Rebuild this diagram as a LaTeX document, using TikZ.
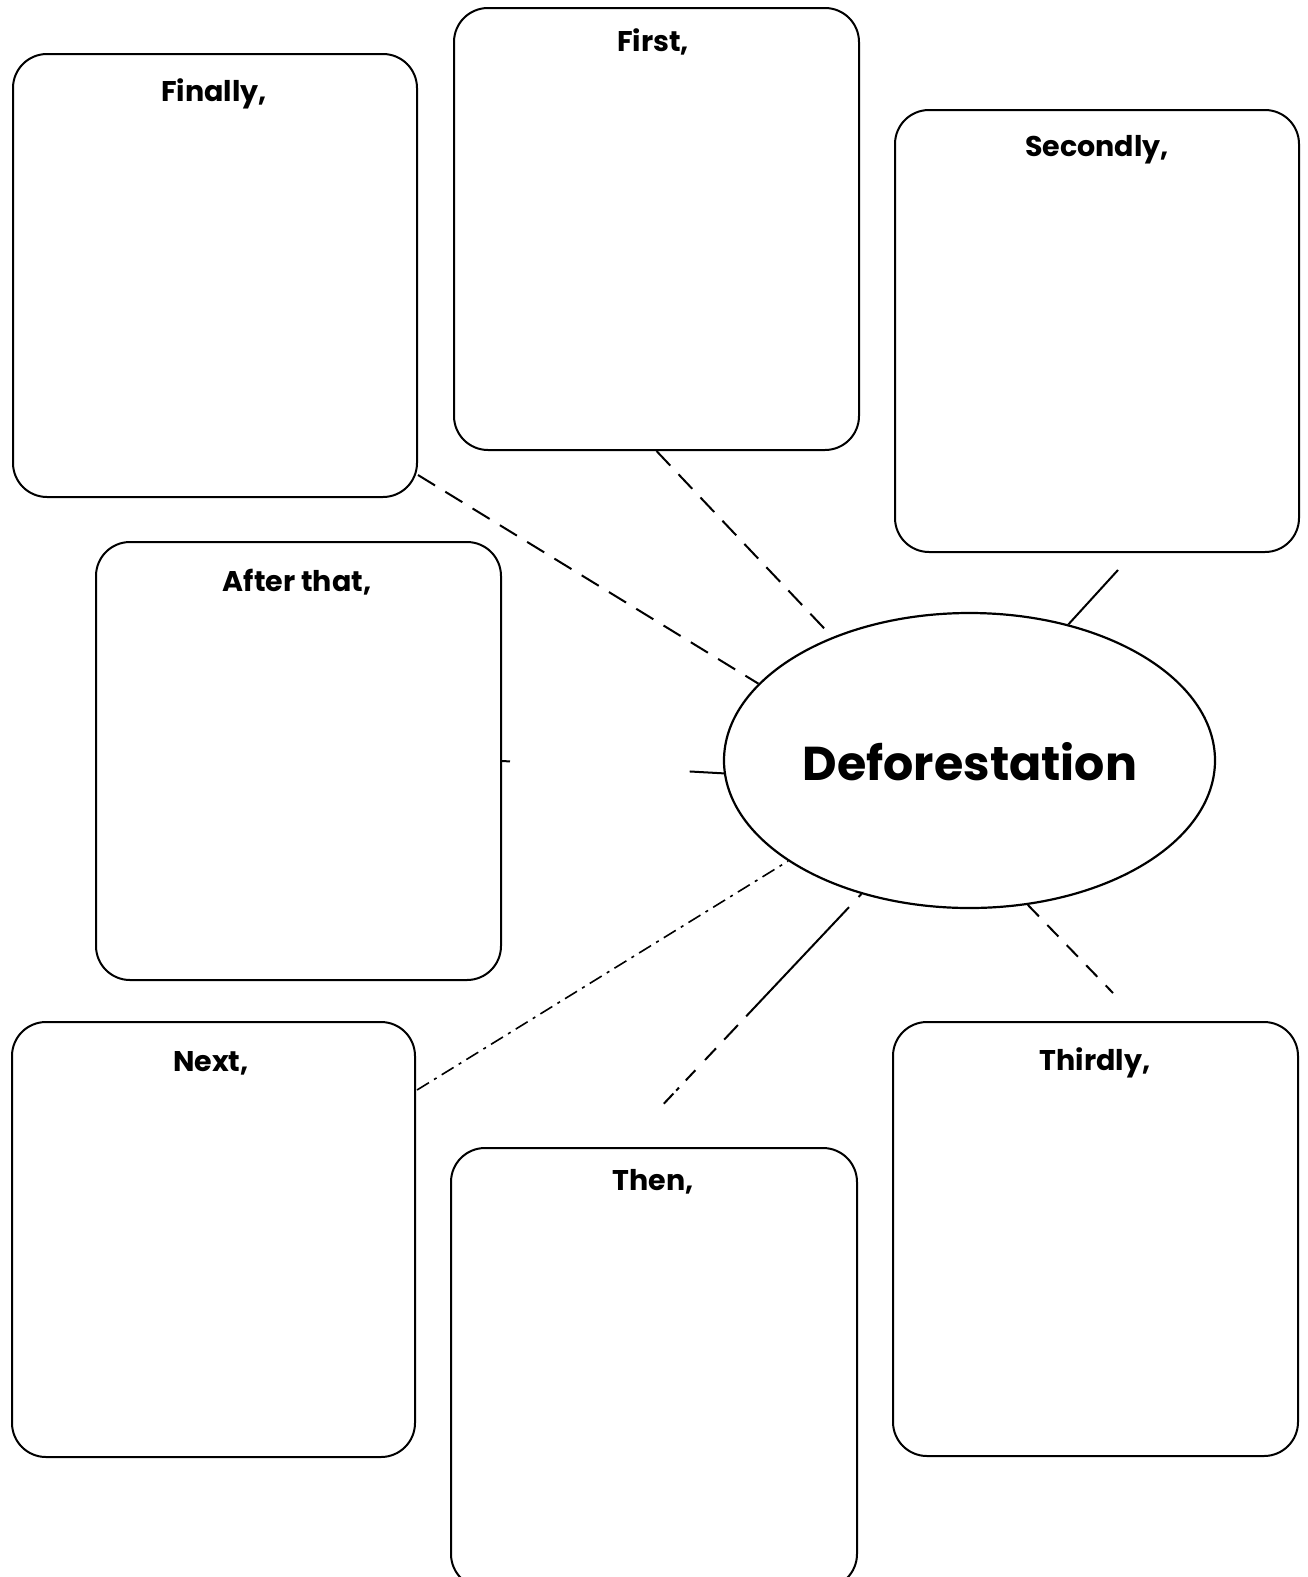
\documentclass[tikz,border=0pt]{standalone}
\usepackage{fontspec}
\setmainfont{Poppins}
\usetikzlibrary{shapes.geometric}
\begin{document}
\begin{tikzpicture}[x=1pt,y=-1pt,
  card/.style={draw=black,line width=2pt,rounded corners=34pt,inner sep=0pt,anchor=north west},
  head/.style={font=\fontsize{28.5}{31}\selectfont\bfseries,anchor=center},
  link/.style={draw=black,line width=2pt},
  dlink/.style={link,dash pattern=on 20pt off 12pt}]
\useasboundingbox[fill=white] (0,0) rectangle (1308,1577);
% boxes
\node[card,minimum width=404pt,minimum height=443pt] (fin) at (12,53) {};
\node[card,minimum width=405pt,minimum height=442pt] (fst) at (453,7) {};
\node[card,minimum width=404pt,minimum height=442pt] (sec) at (894,109) {};
\node[card,minimum width=405pt,minimum height=438pt] (aft) at (95,541) {};
\node[card,minimum width=403pt,minimum height=435pt] (nxt) at (11,1021) {};
\node[card,minimum width=406pt,minimum height=440pt] (thn) at (450,1147) {};
\node[card,minimum width=405pt,minimum height=434pt] (thd) at (892,1021) {};
% headings
\node[head] (tfin) at (214,94) {Finally,};
\node[head] (tfst) at (653,42) {First,};
\node[head] (tsec) at (1097,150) {Secondly,};
\node[head] (taft) at (297,582) {After that,};
\node[head] (tnxt) at (211,1063) {Next,};
\node[head] (tthn) at (653,1182) {Then,};
\node[head] (tthd) at (1095,1063) {Thirdly,};
% ellipse
\node[ellipse,draw=black,line width=2.2pt,minimum width=491pt,minimum height=295pt,inner sep=0pt] (ell) at (969.5,760.5) {};
\node[font=\fontsize{47.5}{52}\selectfont\bfseries] (tell) at (970,762) {Deforestation};
% free ends
\coordinate (cfin) at (418,475);
\coordinate (csec) at (1118,570);
\coordinate (cnxt) at (417,1090);
\coordinate (cthn) at (656,1112);
\coordinate (cthd) at (1113,993);
% connectors
\draw[dlink] (cfin) -- (ell.160.4);
\draw[dlink] (fst.south) -- (ell.138.5);
\draw[link] (ell.54.6) -- (csec);
\draw[link,dash pattern=on 8pt off 180pt on 40pt] (aft.east) -- (ell.183);
\draw[link,line width=1.6pt,dash pattern=on 14pt off 6pt on 3pt off 6pt] (cnxt) -- (ell.209.2);
\draw[link,dash pattern=on 4pt off 14pt on 150pt off 12pt on 20pt off 12pt on 16pt off 14pt on 14pt off 10pt on 4pt] (ell.231.3) -- (cthn);
\draw[dlink,dash pattern=on 16pt off 12pt] (ell.292.7) -- (cthd);
\end{tikzpicture}
\end{document}
